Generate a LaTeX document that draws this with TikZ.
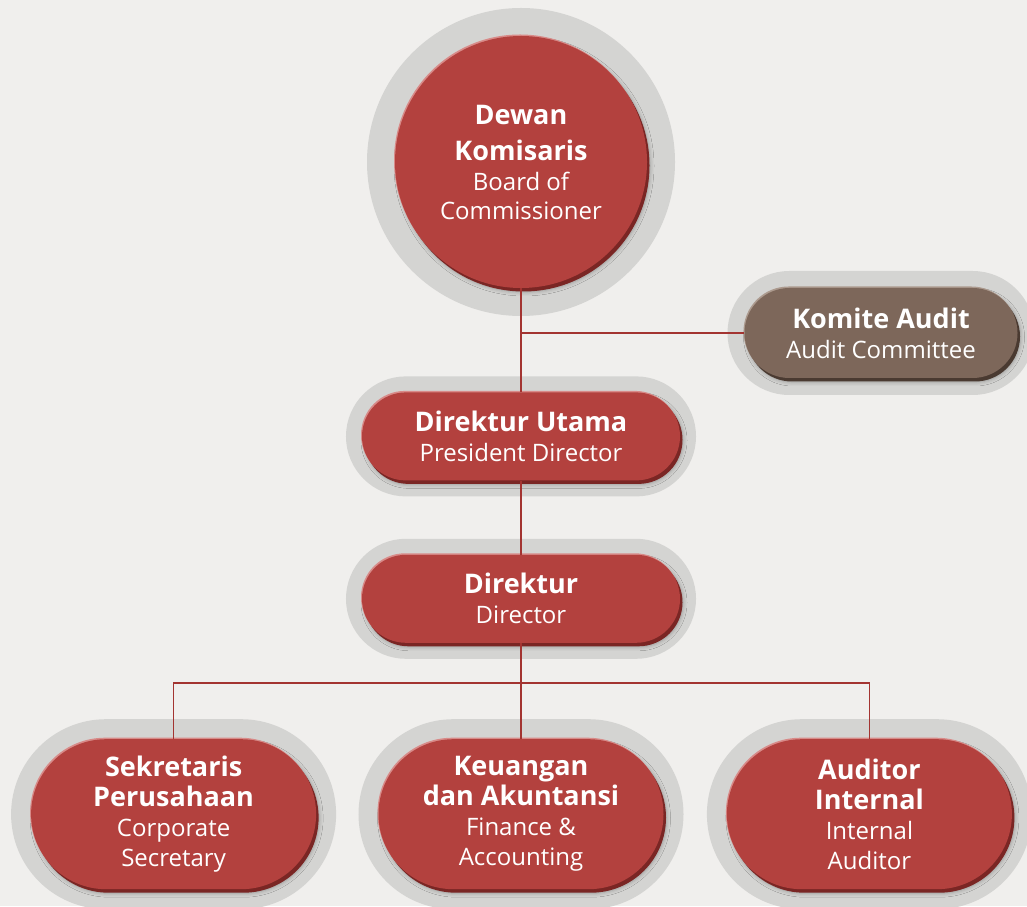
\documentclass[tikz,border=0pt]{standalone}
\usepackage{fontspec}
\setmainfont{Open Sans}
\usepackage{tikz}
\usetikzlibrary{positioning,shapes.misc,shadows,shadows.blur}
\definecolor{paper}{HTML}{F0EFED}
\definecolor{halogray}{HTML}{D4D4D2}
\definecolor{orgred}{HTML}{B3413E}
\definecolor{orgredlight}{HTML}{D88A88}
\definecolor{orgreddark}{HTML}{7A2624}
\definecolor{orgbrown}{HTML}{7D675A}
\definecolor{orgbrownlight}{HTML}{AC9A8E}
\definecolor{orgbrowndark}{HTML}{4A3A31}
\definecolor{wire}{HTML}{A33431}
\tikzset{
  unit/.style={text=white, inner sep=0pt, align=center,
    font=\fontsize{24}{30}\selectfont,
    blur shadow={shadow xshift=3pt, shadow yshift=-4pt, shadow blur radius=4pt, shadow opacity=30},
  },
  redunit/.style={unit, fill=orgred,
    general shadow={shadow xshift=2.5pt, shadow yshift=-3.5pt, fill=orgreddark},
    general shadow={shadow xshift=-1pt, shadow yshift=1.5pt, fill=orgredlight}
  },
  brownunit/.style={unit, fill=orgbrown,
    general shadow={shadow xshift=2.5pt, shadow yshift=-3.5pt, fill=orgbrowndark},
    general shadow={shadow xshift=-1pt, shadow yshift=1.5pt, fill=orgbrownlight}
  },
  halo/.style={preaction={draw=halogray, line width=#1}},
  pill/.style={rounded rectangle, minimum width=318pt, minimum height=88pt},
  box/.style={rounded rectangle, minimum width=285pt, minimum height=150pt},
  wire/.style={draw=wire, line width=1.6pt},
}
\newcommand{\hd}[1]{{\bfseries\fontsize{27}{31}\selectfont #1}}

\begin{document}
\begin{tikzpicture}[x=1pt, y=1pt]

\fill[paper] (0,0) rectangle (1027,906);
\useasboundingbox (0,0) rectangle (1027,906);

% board
\node[halo=56pt, redunit, circle, minimum size=252pt] (dk) at (521,744)
  {\hd{Dewan}\\[6pt]\hd{Komisaris}\\Board of\\[-1pt]Commissioner};

% committee
\node[halo=34pt, brownunit, rounded rectangle, minimum width=273pt, minimum height=90pt] (ka) at (881,573)
  {\hd{Komite Audit}\\Audit Committee};

% directors
\node[halo=32pt, redunit, pill, below=104pt of dk] (du)
  {\hd{Direktur Utama}\\President Director};
\node[halo=32pt, redunit, pill, below=74pt of du] (dir)
  {\hd{Direktur}\\Director};

% bottom row
\node[halo=40pt, redunit, box, below=96pt of dir] (keu)
  {\hd{Keuangan}\\\hd{dan Akuntansi}\\Finance \&\\Accounting};
\node[halo=40pt, redunit, box, left=62pt of keu] (sek)
  {\hd{Sekretaris}\\\hd{Perusahaan}\\Corporate\\Secretary};
\node[halo=40pt, redunit, box, right=63pt of keu] (aud)
  {\hd{Auditor}\\\hd{Internal}\\Internal\\Auditor};

% lines
\draw[wire] (dk.south) -- (du.north);
\draw[wire] (dk.south |- ka.west) -- (ka.west);
\draw[wire] (du.south) -- (dir.north);
\draw[wire] (dir.south) -- ++(0,-40) coordinate (bus);
\draw[wire] (sek.north) |- (bus) -| (aud.north);
\draw[wire] (bus) -- (keu.north);

\end{tikzpicture}
\end{document}
